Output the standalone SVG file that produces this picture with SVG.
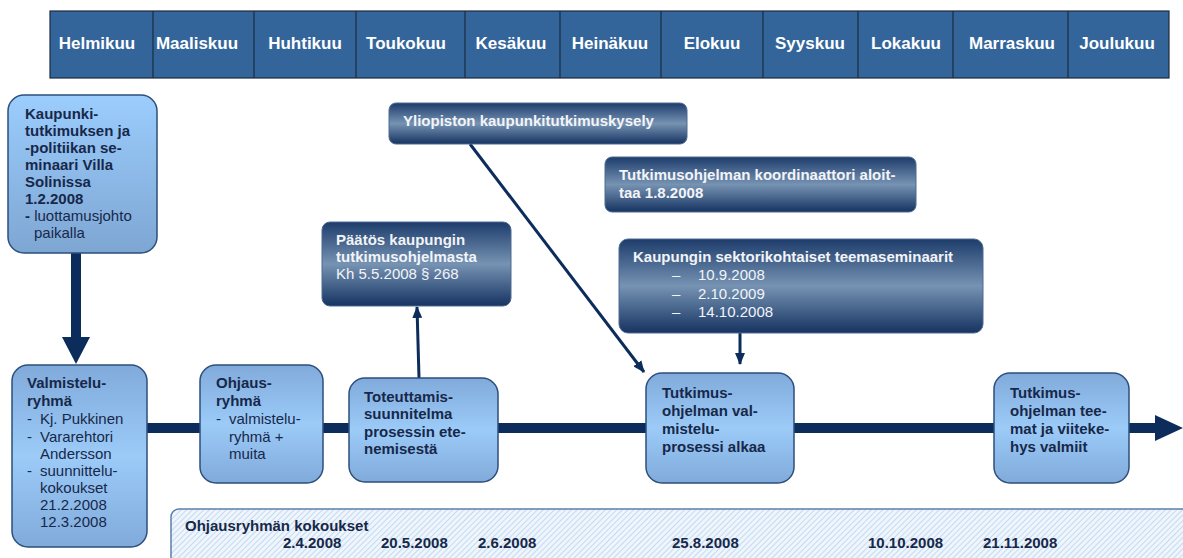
<svg xmlns="http://www.w3.org/2000/svg" width="1183" height="558" viewBox="0 0 1183 558">
<defs>
<style>
.mon{font-family:"Liberation Sans",Arial,sans-serif;font-size:17px;font-weight:bold;fill:#ffffff;text-anchor:middle}
.sep{stroke:#1a2a40;stroke-width:1.2}
.lb{fill:url(#gLight);stroke:#2d4f7c;stroke-width:1.5}
.db{fill:url(#gDark);stroke:#4c6a90;stroke-width:1}
.t{font-family:"Liberation Sans",Arial,sans-serif;font-size:15px;fill:#17284a}
.tw{font-family:"Liberation Sans",Arial,sans-serif;font-size:15px;fill:#f2f4f8}
.b{font-weight:bold}
.con{stroke:#0c2d5c;stroke-width:3;fill:none}
</style>
<linearGradient id="gLight" x1="0" y1="0" x2="0" y2="1">
<stop offset="0" stop-color="#80aada"/>
<stop offset="0.5" stop-color="#9ccbf8"/>
<stop offset="1" stop-color="#80aada"/>
</linearGradient>
<linearGradient id="gTop" x1="0" y1="0" x2="0" y2="1">
<stop offset="0" stop-color="#9bcdfd"/>
<stop offset="1" stop-color="#7ea6d3"/>
</linearGradient>
<linearGradient id="gDark" x1="0" y1="0" x2="0" y2="1">
<stop offset="0" stop-color="#1d3c6b"/>
<stop offset="0.5" stop-color="#7693b3"/>
<stop offset="1" stop-color="#163362"/>
</linearGradient>
<pattern id="hatch" width="4" height="4" patternUnits="userSpaceOnUse" patternTransform="rotate(45)">
<rect width="4" height="4" fill="#eef5fc"/>
<line x1="0" y1="0" x2="0" y2="4" stroke="#b4cfea" stroke-width="1.4"/>
</pattern>
<marker id="ah" markerUnits="userSpaceOnUse" markerWidth="12" markerHeight="10" viewBox="0 0 12 10" refX="11" refY="5" orient="auto">
<path d="M0,0 L12,5 L0,10 Z" fill="#0c2d5c"/>
</marker>
</defs>
<rect width="1183" height="558" fill="#ffffff"/>

<g id="months">
<rect x="50" y="11" width="1119" height="67" fill="#34659a" stroke="#1a2a40" stroke-width="1.2"/>
<line class="sep" x1="153" y1="11" x2="153" y2="78"/>
<line class="sep" x1="254" y1="11" x2="254" y2="78"/>
<line class="sep" x1="356" y1="11" x2="356" y2="78"/>
<line class="sep" x1="465" y1="11" x2="465" y2="78"/>
<line class="sep" x1="560" y1="11" x2="560" y2="78"/>
<line class="sep" x1="661" y1="11" x2="661" y2="78"/>
<line class="sep" x1="763" y1="11" x2="763" y2="78"/>
<line class="sep" x1="858" y1="11" x2="858" y2="78"/>
<line class="sep" x1="953" y1="11" x2="953" y2="78"/>
<line class="sep" x1="1068" y1="11" x2="1068" y2="78"/>
<text class="mon" x="97" y="49">Helmikuu</text>
<text class="mon" x="197" y="49">Maaliskuu</text>
<text class="mon" x="305" y="49">Huhtikuu</text>
<text class="mon" x="406" y="49">Toukokuu</text>
<text class="mon" x="511" y="49">Kesäkuu</text>
<text class="mon" x="610" y="49">Heinäkuu</text>
<text class="mon" x="712" y="49">Elokuu</text>
<text class="mon" x="810" y="49">Syyskuu</text>
<text class="mon" x="906" y="49">Lokakuu</text>
<text class="mon" x="1012" y="49">Marraskuu</text>
<text class="mon" x="1117" y="49">Joulukuu</text>
</g>

<g id="meetings">
<rect x="171" y="509" width="1030" height="70" rx="8" fill="url(#hatch)" stroke="#5d7fa6" stroke-width="1.5"/>
<text class="t b" x="185" y="531">Ohjausryhmän kokoukset</text>
<text class="t b" x="283" y="548">2.4.2008</text>
<text class="t b" x="381" y="548">20.5.2008</text>
<text class="t b" x="478" y="548">2.6.2008</text>
<text class="t b" x="672" y="548">25.8.2008</text>
<text class="t b" x="868" y="548">10.10.2008</text>
<text class="t b" x="983" y="548">21.11.2008</text>
</g>

<g id="connectors">
<rect x="147" y="423" width="1009" height="10" fill="#0c2d5c"/>
<polygon points="1155,415 1183,428 1155,441" fill="#0c2d5c"/>
<rect x="71" y="252" width="10" height="86" fill="#0c2d5c"/>
<polygon points="62,337 90,337 76,364" fill="#0c2d5c"/>
<line class="con" x1="470" y1="144" x2="644" y2="372" marker-end="url(#ah)"/>
<line class="con" x1="740" y1="333" x2="740" y2="364" marker-end="url(#ah)"/>
<line class="con" x1="419" y1="378" x2="417" y2="307" marker-end="url(#ah)"/>
</g>

<g id="seminaari">
<rect x="8" y="95" width="149" height="158" rx="16" fill="url(#gTop)" stroke="#2d4f7c" stroke-width="1.5"/>
<text class="t b" x="25" y="119">Kaupunki-</text>
<text class="t b" x="25" y="136">tutkimuksen ja</text>
<text class="t b" x="25" y="153">-politiikan se-</text>
<text class="t b" x="25" y="170">minaari Villa</text>
<text class="t b" x="25" y="187">Solinissa</text>
<text class="t b" x="25" y="204">1.2.2008</text>
<text class="t" x="25" y="221"><tspan class="b">-</tspan> luottamusjohto</text>
<text class="t" x="34" y="238">paikalla</text>
</g>

<g id="valmisteluryhma">
<rect x="12" y="365" width="135" height="182" rx="16" class="lb"/>
<text class="t b" x="27" y="388">Valmistelu-</text>
<text class="t b" x="27" y="406">ryhmä</text>
<text class="t" x="27" y="424">-</text><text class="t" x="40" y="424">Kj. Pukkinen</text>
<text class="t" x="27" y="442">-</text><text class="t" x="40" y="442">Vararehtori</text>
<text class="t" x="40" y="459">Andersson</text>
<text class="t" x="27" y="476">-</text><text class="t" x="40" y="476">suunnittelu-</text>
<text class="t" x="40" y="493">kokoukset</text>
<text class="t" x="40" y="510">21.2.2008</text>
<text class="t" x="40" y="527">12.3.2008</text>
</g>

<g id="ohjausryhma">
<rect x="200" y="365" width="123" height="118" rx="16" class="lb"/>
<text class="t b" x="216" y="388">Ohjaus-</text>
<text class="t b" x="216" y="406">ryhmä</text>
<text class="t" x="216" y="424">-</text><text class="t" x="229" y="424">valmistelu-</text>
<text class="t" x="229" y="442">ryhmä +</text>
<text class="t" x="229" y="459">muita</text>
</g>

<g id="toteuttamis">
<rect x="349" y="378" width="149" height="104" rx="16" class="lb"/>
<text class="t b" x="364" y="402">Toteuttamis-</text>
<text class="t b" x="364" y="419">suunnitelma</text>
<text class="t b" x="364" y="437">prosessin ete-</text>
<text class="t b" x="364" y="454">nemisestä</text>
</g>

<g id="valmisteluprosessi">
<rect x="646" y="373" width="148" height="110" rx="16" class="lb"/>
<text class="t b" x="662" y="398">Tutkimus-</text>
<text class="t b" x="662" y="416">ohjelman val-</text>
<text class="t b" x="662" y="434">mistelu-</text>
<text class="t b" x="662" y="452">prosessi alkaa</text>
</g>

<g id="valmiit">
<rect x="994" y="373" width="135" height="110" rx="16" class="lb"/>
<text class="t b" x="1010" y="398">Tutkimus-</text>
<text class="t b" x="1010" y="416">ohjelman tee-</text>
<text class="t b" x="1010" y="434">mat ja viiteke-</text>
<text class="t b" x="1010" y="452">hys valmiit</text>
</g>

<g id="kysely">
<rect x="389" y="103" width="298" height="41" rx="7" class="db"/>
<text class="tw b" x="403" y="126">Yliopiston kaupunkitutkimuskysely</text>
</g>

<g id="koordinaattori">
<rect x="605" y="157" width="311" height="55" rx="7" class="db"/>
<text class="tw b" x="619" y="180">Tutkimusohjelman koordinaattori aloit-</text>
<text class="tw b" x="619" y="198">taa 1.8.2008</text>
</g>

<g id="paatos">
<rect x="322" y="222" width="189" height="84" rx="8" class="db"/>
<text class="tw b" x="336" y="245">Päätös kaupungin</text>
<text class="tw b" x="336" y="262">tutkimusohjelmasta</text>
<text class="tw" x="336" y="279">Kh 5.5.2008 § 268</text>
</g>

<g id="teemaseminaarit">
<rect x="619" y="239" width="364" height="94" rx="9" class="db"/>
<text class="tw b" x="633" y="262">Kaupungin sektorikohtaiset teemaseminaarit</text>
<text class="tw" x="672" y="280">–</text><text class="tw" x="698" y="280">10.9.2008</text>
<text class="tw" x="672" y="299">–</text><text class="tw" x="698" y="299">2.10.2009</text>
<text class="tw" x="672" y="317">–</text><text class="tw" x="698" y="317">14.10.2008</text>
</g>
</svg>
